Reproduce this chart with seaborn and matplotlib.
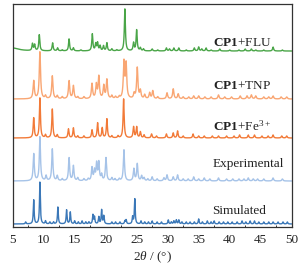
import numpy as np
import pandas as pd
import matplotlib
matplotlib.use("Agg")
import matplotlib.pyplot as plt
import seaborn as sns
from matplotlib.ticker import MultipleLocator

# peak positions (2theta, deg) and heights
sim_pos = [7.1, 8.4, 9.4, 10.3, 11.0, 11.6, 12.3, 13.7, 14.3, 15.0, 15.6, 16.2, 16.8, 17.3,
           17.95, 18.2, 18.9, 19.35, 19.7, 21.0, 21.6, 22.3, 23.1, 23.3, 24.35, 24.7, 25.7,
           26.3, 26.9, 27.5, 28.3, 29.0, 30.1, 30.6, 31.0, 31.4, 31.8, 32.3, 33.0, 33.6,
           34.3, 35.0, 35.6, 36.4, 37.0, 37.5, 38.3, 39.0, 39.7, 40.4, 41.2, 42.0, 42.6,
           43.3, 44.0, 44.7, 45.5, 46.3, 47.0, 47.8, 48.6, 49.3]
sim_int = [2, 24, 42, 3, 2, 2, 17, 14, 12, 3, 2, 3, 2, 2,
           9, 7, 7, 14, 8, 2, 2, 2, 3, 4, 7, 25, 3,
           2, 2, 3, 2, 2, 4, 2, 3, 4, 4, 2, 2, 2,
           2, 5, 2, 3, 2, 3, 2, 2, 2, 2, 2, 3, 2,
           3, 3, 2, 2, 2, 2, 2, 2, 2]

exp_pos = [8.4, 9.4, 10.4, 11.4, 12.2, 13.0, 14.1, 14.8, 15.5, 16.5, 17.2, 17.8, 18.2,
           18.55, 18.9, 19.35, 20.05, 21.0, 21.5, 22.2, 22.95, 24.55, 25.1, 25.8, 26.2,
           26.8, 27.5, 28.3, 29.4, 29.9, 30.9, 31.6, 32.5, 33.3, 34.2, 35.0, 35.9, 36.8,
           38.2, 39.5, 40.5, 41.5, 42.3, 43.0, 43.8, 44.5, 45.5, 47.0, 48.5]
exp_int = [27, 44, 5, 32, 5, 2, 23, 15, 3, 2, 2, 13, 10,
           17, 18, 6, 23, 3, 2, 2, 31, 12, 17, 5, 3,
           2, 4, 2, 3, 6, 4, 6, 2, 2, 4, 2, 3, 2,
           3, 2, 2, 2, 2, 3, 2, 2, 2, 3, 2]

fe_pos = [8.4, 9.4, 10.3, 11.4, 12.2, 14.0, 14.8, 15.5, 16.5, 17.8, 18.7, 19.45, 20.2,
          21.0, 22.0, 22.9, 24.5, 25.0, 25.6, 26.2, 27.4, 28.2, 29.8, 30.9, 31.6, 32.5,
          34.1, 35.0, 35.9, 37.2, 38.2, 39.5, 40.7, 41.6, 43.0, 44.0, 45.2, 46.2, 47.0,
          48.4, 49.2]
fe_int = [20, 40, 3, 29, 3, 9, 10, 2, 2, 8, 15, 10, 19,
          2, 2, 39, 11, 11, 6, 3, 4, 2, 4, 5, 7, 2,
          4, 2, 2, 2, 2, 2, 2, 3, 3, 3, 2, 2, 3,
          2, 2]

tnp_pos = [8.4, 9.4, 10.3, 11.4, 12.2, 13.0, 14.1, 14.8, 15.5, 16.5, 17.8, 18.5, 18.9,
           19.7, 20.2, 21.0, 21.6, 22.2, 22.95, 23.3, 24.6, 25.1, 25.6, 26.3, 27.1, 27.6,
           28.4, 29.9, 30.9, 31.7, 32.5, 33.4, 34.2, 35.0, 36.0, 37.0, 38.2, 39.2, 40.3,
           41.7, 42.8, 43.5, 44.2, 45.5, 46.3, 47.0, 48.3, 49.2]
tnp_int = [18, 47, 3, 23, 3, 2, 18, 13, 2, 2, 15, 14, 22,
           13, 19, 3, 2, 2, 36, 34, 5, 31, 8, 4, 6, 8,
           2, 6, 10, 5, 2, 2, 3, 3, 2, 2, 4, 2, 2,
           3, 3, 4, 3, 2, 2, 3, 2, 2]

flu_pos = [5.0, 8.2, 8.55, 9.3, 11.45, 12.25, 13.0, 14.1, 14.8, 16.0, 17.85, 18.4, 18.7,
           19.1, 19.65, 20.2, 21.0, 21.8, 23.1, 24.5, 25.0, 25.6, 26.1, 27.5, 28.4, 29.8,
           30.3, 31.0, 31.8, 33.0, 34.3, 35.0, 35.5, 36.2, 37.0, 38.4, 40.0, 41.5, 42.5,
           43.5, 44.2, 45.5, 47.0, 48.5]
flu_int = [3, 7, 6, 16, 8, 3, 1, 12, 3, 1, 17, 7, 8,
           5, 5, 8, 2, 1, 42, 8, 21, 3, 2, 2, 1, 3,
           2, 3, 3, 1, 3, 4, 2, 3, 1, 2, 1, 1, 2,
           2, 1, 1, 4, 1]

names = ["Simulated", "Experimental", "Fe", "TNP", "FLU"]
peaks = {"Simulated": (sim_pos, sim_int), "Experimental": (exp_pos, exp_int),
         "Fe": (fe_pos, fe_int), "TNP": (tnp_pos, tnp_int), "FLU": (flu_pos, flu_int)}
offsets = {"Simulated": 3, "Experimental": 46, "Fe": 89, "TNP": 128, "FLU": 176}
widths = {"Simulated": 0.08, "Experimental": 0.11, "Fe": 0.1, "TNP": 0.12, "FLU": 0.1}
colors = {"Simulated": "#3b78b8", "Experimental": "#a6c3e8", "Fe": "#f27a38",
          "TNP": "#f9a673", "FLU": "#4aa548"}

tt = np.linspace(5, 50, 2500)
rows = []
for n in names:
    pos, hgt = peaks[n]
    w = np.full(len(pos), widths[n])
    w[np.array(pos) == 5.0] = 1.2  # low-angle background hump
    y = np.zeros_like(tt)
    for p, h, ww in zip(pos, hgt, w):
        y += h / (1 + ((tt - p) / ww) ** 2)
    rows.append(pd.DataFrame({"two_theta": tt, "intensity": y + offsets[n], "pattern": n}))
df = pd.concat(rows, ignore_index=True)

sns.set_style("white")
plt.rcParams["font.family"] = ["Liberation Serif", "DejaVu Serif"]
plt.rcParams["mathtext.fontset"] = "custom"
plt.rcParams["mathtext.rm"] = "Liberation Serif"
plt.rcParams["mathtext.it"] = "Liberation Serif:italic"
plt.rcParams["mathtext.bf"] = "Liberation Serif:bold"

fig = plt.figure(figsize=(3.08, 2.68), dpi=100)
ax = fig.add_axes([0.041, 0.153, 0.906, 0.832])

for n in names:
    sns.lineplot(data=df[df.pattern == n], x="two_theta", y="intensity",
                 color=colors[n], lw=1.0, estimator=None, ax=ax)

labels = {"FLU": (184, r"$\mathbf{CP1}$+FLU"), "TNP": (141, r"$\mathbf{CP1}$+TNP"),
          "Fe": (101, r"$\mathbf{CP1}$+Fe$^{3+}$"), "Experimental": (63, "Experimental"),
          "Simulated": (16, "Simulated")}
for n, (yy, t) in labels.items():
    ax.text(37.25, yy, t, fontsize=9.5, ha="left", va="center", color="#222222")

ax.set_xlim(5, 50)
ax.set_ylim(0, 223)
ax.set_yticks([])
ax.set_ylabel("")
ax.set_xlabel(r"2$\mathit{\theta}$ / (°)", fontsize=9.5, labelpad=2.5)
ax.xaxis.set_major_locator(MultipleLocator(5))
ax.xaxis.set_minor_locator(MultipleLocator(2.5))
ax.tick_params(axis="x", which="major", direction="in", length=3, width=0.8,
               labelsize=9.5, pad=5, color="#333333")
ax.tick_params(axis="x", which="minor", direction="in", length=1.8, width=0.7,
               bottom=True, color="#333333")
for s in ax.spines.values():
    s.set_color("#333333")
    s.set_linewidth(0.9)
legend = ax.get_legend()
if legend:
    legend.remove()

fig.savefig("out.png", dpi=100)
